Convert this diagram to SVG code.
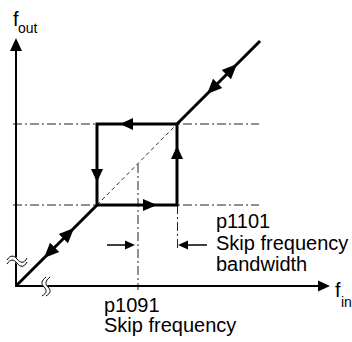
<svg xmlns="http://www.w3.org/2000/svg" width="352" height="342" viewBox="0 0 352 342">
<style>
.ax{stroke:#000;stroke-width:2;fill:none}
.th{stroke:#000;stroke-width:3;fill:none;stroke-linecap:square}
.dd{stroke:#222;stroke-width:1;fill:none;stroke-dasharray:9,3,2,3}
.ds{stroke:#333;stroke-width:1;fill:none;stroke-dasharray:4,3}
.ah{fill:#000;stroke:none}
.t{font-family:"Liberation Sans",Arial,sans-serif;font-size:20px;fill:#000}
.s{font-family:"Liberation Sans",Arial,sans-serif;font-size:14px;fill:#000}
.brk{fill:none;stroke:#000;stroke-width:1}
.brkw{fill:none;stroke:#fff;stroke-width:4}
</style>
<rect width="352" height="342" fill="#fff"/>
<g id="guides">
<line class="dd" x1="13" y1="124" x2="259" y2="124"/>
<line class="dd" x1="13" y1="205" x2="259" y2="205"/>
<line class="dd" x1="138" y1="164" x2="138" y2="290"/>
<line class="dd" x1="177.5" y1="205" x2="177.5" y2="248"/>
<line class="ds" x1="97" y1="205" x2="177" y2="124"/>
</g>
<g id="axes">
<line class="ax" x1="16" y1="287" x2="16" y2="50"/>
<polygon class="ah" points="16,38 10,51 22,51"/>
<line class="ax" x1="15" y1="286" x2="319" y2="286"/>
<polygon class="ah" points="330,286 318,280.5 318,291.5"/>
<path class="brkw" d="M7,262 C10,257 14,257 17,261 S24,266 27,260"/>
<path class="brk" d="M7,260 C10,255 14,255 17,259 S24,264 27,258"/>
<path class="brk" d="M7,264 C10,259 14,259 17,263 S24,268 27,262"/>
<path class="brkw" d="M48,277 C43,281 43,284 46,287 S49,293 44,296"/>
<path class="brk" d="M46,277 C41,281 41,284 44,287 S47,293 42,296"/>
<path class="brk" d="M50,277 C45,281 45,284 48,287 S51,293 46,296"/>
</g>
<g id="connectors">
<line class="th" x1="17" y1="285" x2="97" y2="205"/>
<polyline class="th" points="97,205 177,205 177,124 97,124 97,205"/>
<line class="th" x1="177" y1="124" x2="259" y2="42"/>
<polygon class="ah" points="74,228 58.8,234 68,243.2"/>
<polygon class="ah" points="44,258 59.2,252 50,242.8"/>
<polygon class="ah" points="237,64 221.8,70 231,79.2"/>
<polygon class="ah" points="207,94 222.2,88 213,78.8"/>
<polygon class="ah" points="120,124 133,118 133,130"/>
<polygon class="ah" points="177,146 171,159 183,159"/>
<polygon class="ah" points="97,182 91,169 103,169"/>
<polygon class="ah" points="157,205 143,199 143,211"/>
<line class="ax" x1="107" y1="245" x2="126" y2="245" style="stroke-width:1.5"/>
<polygon class="ah" points="135,245 125,240.5 125,249.5"/>
<line class="ax" x1="187" y1="245" x2="207" y2="245" style="stroke-width:1.5"/>
<polygon class="ah" points="178,245 188,240.5 188,249.5"/>
</g>
<g id="label-fout">
<text class="t" x="13" y="26">f</text><text class="s" x="18" y="33">out</text>
</g>
<g id="label-fin">
<text class="t" x="335" y="297">f</text><text class="s" x="341" y="307">in</text>
</g>
<g id="label-p1091">
<text class="t" x="104" y="312">p1091</text>
<text class="t" x="104" y="332">Skip frequency</text>
</g>
<g id="label-p1101">
<text class="t" x="216" y="228">p1101</text>
<text class="t" x="216" y="249.5">Skip frequency</text>
<text class="t" x="216" y="270.5">bandwidth</text>
</g>
</svg>
